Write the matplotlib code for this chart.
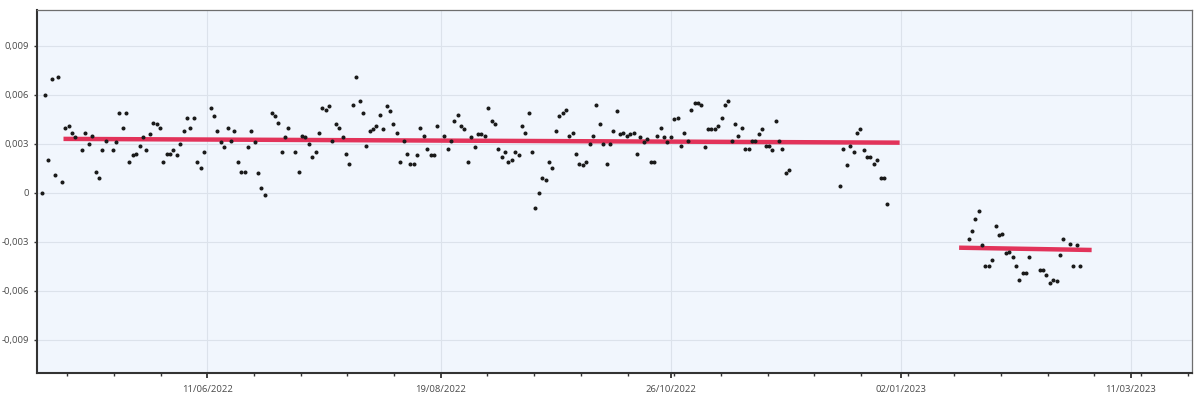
import matplotlib
matplotlib.use("Agg")
import matplotlib.pyplot as plt
import matplotlib.dates as mdates
import matplotlib.ticker as mticker
import pandas as pd

# ---------------- data ----------------
series1_start = "2022-04-23"
series1_values = [
    0.0000, 0.0060, 0.0020, 0.0070, 0.0011, 0.0071, 0.0007, 0.0040, 0.0041, 0.0037,
    0.0034, None, 0.0026, 0.0037, 0.0030, 0.0035, 0.0013, 0.0009, 0.0026, 0.0032,
    None, 0.0026, 0.0031, 0.0049, 0.0040, 0.0049, 0.0019, 0.0023, 0.0024, 0.0029,
    0.0034, 0.0026, 0.0036, 0.0043, 0.0042, 0.0040, 0.0019, 0.0024, 0.0024, 0.0026,
    0.0023, 0.0030, 0.0038, 0.0046, 0.0040, 0.0046, 0.0019, 0.0015, 0.0025, None,
    0.0052, 0.0047, 0.0038, 0.0031, 0.0028, 0.0040, 0.0032, 0.0038, 0.0019, 0.0013,
    0.0013, 0.0028, 0.0038, 0.0031, 0.0012, 0.0003, -0.0001, None, 0.0049, 0.0047,
    0.0043, 0.0025, 0.0034, 0.0040, None, 0.0025, 0.0013, 0.0035, 0.0034, 0.0030,
    0.0022, 0.0025, 0.0037, 0.0052, 0.0051, 0.0053, 0.0032, 0.0042, 0.0040, 0.0034,
    0.0024, 0.0018, 0.0054, 0.0071, 0.0056, 0.0049, 0.0029, 0.0038, 0.0039, 0.0041,
    0.0048, 0.0039, 0.0053, 0.0050, 0.0042, 0.0037, 0.0019, 0.0032, 0.0024, 0.0018,
    0.0018, 0.0023, 0.0040, 0.0035, 0.0027, 0.0023, 0.0023, 0.0041, None, 0.0035,
    0.0027, 0.0032, 0.0044, 0.0048, 0.0041, 0.0039, 0.0019, 0.0034, 0.0028, 0.0036,
    0.0036, 0.0035, 0.0052, 0.0044, 0.0042, 0.0027, 0.0022, 0.0025, 0.0019, 0.0020,
    0.0025, 0.0023, 0.0041, 0.0037, 0.0049, 0.0025, -0.0009, 0.0000, 0.0009, 0.0008,
    0.0019, 0.0015, 0.0038, 0.0047, 0.0049, 0.0051, 0.0035, 0.0037, 0.0024, 0.0018,
    0.0017, 0.0019, 0.0030, 0.0035, 0.0054, 0.0042, 0.0030, 0.0018, 0.0030, 0.0038,
    0.0050, 0.0036, 0.0037, 0.0035, 0.0036, 0.0037, 0.0024, 0.0034, 0.0031, 0.0033,
    0.0019, 0.0019, 0.0035, 0.0040, 0.0034, 0.0031, 0.0034, 0.0045, 0.0046, 0.0029,
    0.0037, 0.0032, 0.0051, 0.0055, 0.0055, 0.0054, 0.0028, 0.0039, 0.0039, 0.0039,
    0.0041, 0.0046, 0.0054, 0.0056, 0.0032, 0.0042, 0.0035, 0.0040, 0.0027, 0.0027,
    0.0032, 0.0032, 0.0036, 0.0039, 0.0029, 0.0029, 0.0026, 0.0044, 0.0032, 0.0027,
    0.0012, 0.0014, None, None, None, None, None, None, None, None,
    None, None, None, None, None, None, 0.0004, 0.0027, 0.0017, 0.0029,
    0.0025, 0.0037, 0.0039, 0.0026, 0.0022, 0.0022, 0.0018, 0.0020, 0.0009, 0.0009,
    -0.0007,
]

series2_start = "2023-01-22"
series2_values = [
    -0.0028, -0.0023, -0.0016, -0.0011, -0.0032, -0.0045, -0.0045, -0.0041, -0.0020, -0.0026,
    -0.0025, -0.0037, -0.0036, -0.0039, -0.0045, -0.0053, -0.0049, -0.0049, -0.0039, None,
    None, -0.0047, -0.0047, -0.0050, -0.0055, -0.0053, -0.0054, -0.0038, -0.0028, None,
    -0.0031, -0.0045, -0.0032, -0.0045,
]

trend1_dates = ["2022-04-29 12:00", "2023-01-01 15:00"]
trend1_values = [0.00331, 0.00308]
trend2_dates = ["2023-01-19 05:00", "2023-02-27 09:00"]
trend2_values = [-0.00335, -0.00349]

x_tick_labels = ["11/06/2022", "19/08/2022", "26/10/2022", "02/01/2023", "11/03/2023"]
y_tick_values = [-0.009, -0.006, -0.003, 0.0, 0.003, 0.006, 0.009]


def to_xy(start, values):
    dates = pd.date_range(start, periods=len(values), freq="D")
    xs = [d for d, v in zip(dates, values) if v is not None]
    ys = [v for v in values if v is not None]
    return xs, ys


# ---------------- figure ----------------
plt.rcParams["font.family"] = ["Open Sans", "DejaVu Sans"]

fig = plt.figure(figsize=(12, 3.97), dpi=100, facecolor="white")
ax = fig.add_axes([37 / 1200, 1 - 373 / 397, (1192 - 37) / 1200, (373 - 10) / 397])
ax.set_facecolor("#F1F6FD")

x1, y1 = to_xy(series1_start, series1_values)
x2, y2 = to_xy(series2_start, series2_values)
ax.plot(x1, y1, linestyle="none", marker="o", markersize=1.9, color="#1A1A1A", zorder=3)
ax.plot(x2, y2, linestyle="none", marker="o", markersize=1.9, color="#1A1A1A", zorder=3)

ax.plot(pd.to_datetime(trend1_dates), trend1_values, color="#E2335A", linewidth=3.2,
        solid_capstyle="butt", zorder=2)
ax.plot(pd.to_datetime(trend2_dates), trend2_values, color="#E2335A", linewidth=3.2,
        solid_capstyle="butt", zorder=2)

# axes limits
ax.set_xlim(pd.Timestamp("2022-04-21 16:00"), pd.Timestamp("2023-03-29 01:00"))
ax.set_ylim(-0.01102, 0.01120)

# x ticks
major_dates = pd.to_datetime(x_tick_labels, format="%d/%m/%Y")
ax.set_xticks(mdates.date2num(major_dates))
ax.set_xticklabels(x_tick_labels)
ax.xaxis.set_minor_locator(mticker.AutoMinorLocator(5))

# y ticks
ax.set_yticks(y_tick_values)
ax.set_yticklabels(["0" if v == 0 else f"{v:.3f}".replace(".", ",") for v in y_tick_values])

ax.grid(True, which="major", color="#DCE2EB", linewidth=0.8)
ax.set_axisbelow(True)

ax.tick_params(axis="x", which="major", length=3.5, width=1.3, color="#333333",
               labelsize=6.8, labelcolor="#4A4A4A", pad=5.5)
ax.tick_params(axis="x", which="minor", length=2.2, width=1.0, color="#333333")
ax.tick_params(axis="y", which="major", length=2.5, width=1.0, color="#333333",
               labelsize=6.8, labelcolor="#4A4A4A", pad=3)

for side in ("left", "bottom"):
    ax.spines[side].set_color("#333333")
    ax.spines[side].set_linewidth(1.5)
for side in ("top", "right"):
    ax.spines[side].set_color("#6E6E6E")
    ax.spines[side].set_linewidth(0.9)

fig.savefig("out.png", dpi=100, facecolor="white")
